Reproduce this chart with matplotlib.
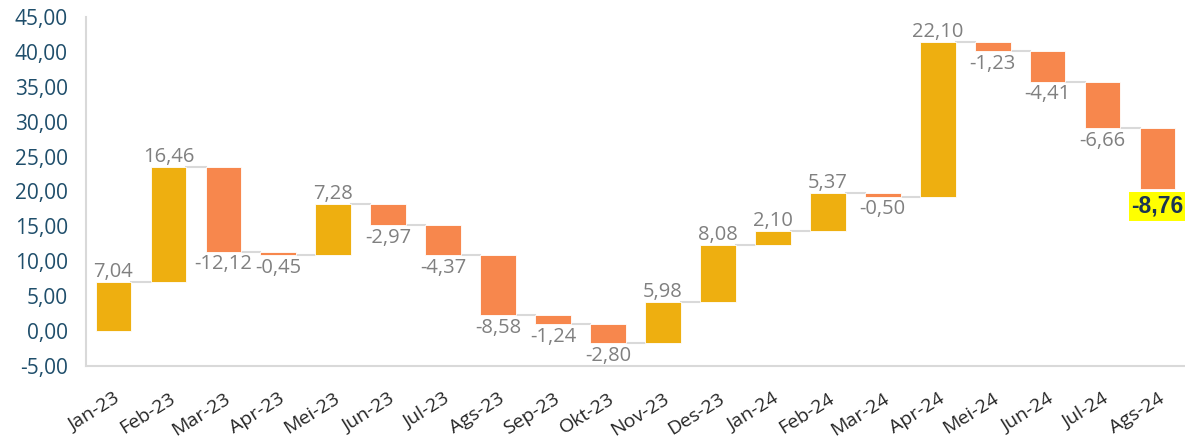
import matplotlib
matplotlib.use("Agg")
import matplotlib.pyplot as plt
import numpy as np

months = ["Jan-23", "Feb-23", "Mar-23", "Apr-23", "Mei-23", "Jun-23", "Jul-23", "Ags-23",
          "Sep-23", "Okt-23", "Nov-23", "Des-23", "Jan-24", "Feb-24", "Mar-24", "Apr-24",
          "Mei-24", "Jun-24", "Jul-24", "Ags-24"]
changes = [7.04, 16.46, -12.12, -0.45, 7.28, -2.97, -4.37, -8.58, -1.24, -2.80,
           5.98, 8.08, 2.10, 5.37, -0.50, 22.10, -1.23, -4.41, -6.66, -8.76]
yticks = [-5, 0, 5, 10, 15, 20, 25, 30, 35, 40, 45]

POS = "#EEAF10"
NEG = "#F7874D"
LBL = "#808080"

plt.rcParams['font.family'] = ['Open Sans', 'DejaVu Sans']

fig = plt.figure(figsize=(11.85, 4.47), dpi=100)
ax = fig.add_axes([86/1185, 1-366/447, (1185-86)/1185, (366-17)/447])

vals = np.array(changes)
ends = np.cumsum(vals)
starts = ends - vals
x = np.arange(len(months))
w = 0.65
colors = [POS if v >= 0 else NEG for v in vals]
ax.bar(x, vals, bottom=starts, width=w, color=colors, edgecolor="white", linewidth=0.6, zorder=3)

for i in range(len(x) - 1):
    ax.plot([x[i] + w/2, x[i+1] - w/2], [ends[i], ends[i]], color="#D9D9D9", lw=1.5, zorder=2)

def fmt(v):
    return f"{v:.2f}".replace(".", ",")

n = len(vals)
for i, v in enumerate(vals):
    top = max(starts[i], ends[i])
    bot = min(starts[i], ends[i])
    if i == n - 1:
        ax.annotate(fmt(v), (x[i], bot), xytext=(0, -4), textcoords="offset points",
                    ha="center", va="top", fontsize=16.5, fontweight="bold", color="#1B3552",
                    family=['Liberation Sans Narrow', 'Liberation Sans', 'DejaVu Sans'],
                    bbox=dict(boxstyle="square,pad=0.12", fc="#FFFF00", ec="none"), zorder=5)
    elif v >= 0:
        ax.annotate(fmt(v), (x[i], top), xytext=(0, 0), textcoords="offset points",
                    ha="center", va="bottom", fontsize=14.5, color=LBL, zorder=5)
    else:
        ax.annotate(fmt(v), (x[i], bot), xytext=(0, -2), textcoords="offset points",
                    ha="center", va="top", fontsize=14.5, color=LBL, zorder=5)

ax.set_xlim(-0.5, n - 0.5)
ax.set_ylim(-5, 45)
ax.set_yticks(yticks)
ax.set_yticklabels([fmt(t) for t in yticks], fontsize=15, color="#1F4E6B")
ax.set_xticks(x)
ax.set_xticklabels(months, rotation=32, ha="right", rotation_mode="anchor", fontsize=14, color="#262626")
ax.tick_params(axis="y", length=0, pad=13)
ax.tick_params(axis="x", length=0, pad=17)
for s in ["top", "right"]:
    ax.spines[s].set_visible(False)
for s in ["left", "bottom"]:
    ax.spines[s].set_color("#D9D9D9")
    ax.spines[s].set_linewidth(1.5)

fig.savefig("out.png", dpi=100)
